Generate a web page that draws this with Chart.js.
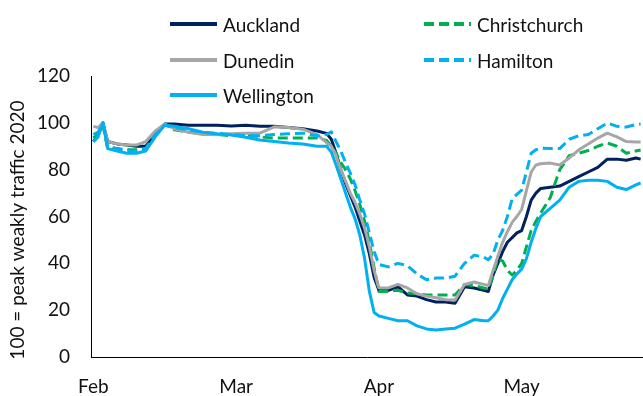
<!DOCTYPE html>
<html>
<head>
<meta charset="utf-8">
<script src="https://cdn.jsdelivr.net/npm/chart.js@4/dist/chart.umd.min.js"></script>
<style>
  html, body { margin: 0; padding: 0; background: #fff; overflow: hidden; }
  #wrap { position: relative; width: 643px; height: 396px; }
  #c { position: absolute; left: 0; top: 0; }
  .lg { position: absolute; display: flex; align-items: center; height: 24px;
        font-family: Lato, "Liberation Sans", sans-serif; font-size: 19px; color: #111; white-space: nowrap; }
  .lg svg { margin-right: 6px; }
</style>
</head>
<body>
<div id="wrap">
  <canvas id="c" width="643" height="396"></canvas>
  <div id="legend"></div>
</div>
<script>
// Day offsets counted from 1 February 2020
const days = [0, 1, 2, 3, 5, 7, 9, 11, 13, 15,
              17, 20, 23, 26, 29, 32, 35, 38, 41, 44,
              47, 49, 50, 51, 52, 53, 54, 55, 56, 57,
              58, 59, 60, 62, 64, 66, 68, 70, 72, 74,
              76, 78, 80, 82, 83, 84, 85, 86, 87, 88,
              89, 90, 91, 92, 93, 94, 96, 98, 100, 102,
              104, 106, 108, 110, 112, 114, 115];

const auckland = [92, 95, 100, 92, 91, 90.5, 90, 90, 95, 99.5,
                  99.5, 99, 99, 99, 98.7, 99, 98.5, 98.5, 98, 97.5,
                  96.5, 95.5, 93, 87, 80, 74, 69, 64, 58, 52,
                  44, 34, 28.5, 28.5, 30, 26.5, 26, 24.5, 23.5, 23.5,
                  23, 30, 29.5, 28.5, 28, 35, 40, 45, 49, 51,
                  53, 54, 60, 67, 70, 72, 72.5, 73, 75, 77,
                  79, 81, 84.5, 84.5, 84, 85, 84.5];

const christchurch = [93.5, 95, 99, 89, 89, 88.5, 88.5, 89, 95, 99.5,
                      97, 96, 95.5, 95, 94.5, 95, 94, 93.5, 93.5, 93.5,
                      93.5, 92.5, 90, 87, 83, 80, 76, 71, 65, 58,
                      49, 38, 28, 28, 28.5, 27.3, 27, 26.5, 26.5, 26.5,
                      26.5, 31, 30.5, 29.5, 29, 35, 42, 41, 37, 35,
                      37, 40, 47, 54, 58, 61.5, 68, 80, 86, 87,
                      88.2, 90, 91.4, 90, 87, 88, 88.4];

const dunedin = [98.5, 98, 100, 92, 91, 90.5, 90.5, 92, 96.5, 99.5,
                 97.5, 96, 95, 95, 95.3, 95.5, 95.6, 98.3, 98, 97.3,
                 95, 91.5, 90, 86, 80, 75, 70, 66, 61, 55,
                 47, 37, 29.5, 29.5, 31, 29.5, 27, 26, 25.3, 24.5,
                 24.3, 31, 32, 31, 30.5, 37, 43, 49, 53.5, 57.5,
                 60, 63, 71, 79, 82, 82.5, 82.8, 82, 85, 88.5,
                 91, 93.5, 95.6, 94, 92, 91.8, 91.8];

const hamilton = [95, 96, 100, 90, 89, 88, 88, 89, 95, 99,
                  98, 97, 96, 95.5, 95, 94.5, 94.5, 95, 95.3, 95.6,
                  94.5, 95, 96.2, 92, 88, 83, 78.5, 73.5, 67, 61,
                  53, 45, 39.5, 38.5, 40, 39, 35.5, 33, 33.7, 33.7,
                  34.5, 40, 43.5, 42.7, 41.5, 44, 50, 54, 60, 67.5,
                  69.5, 71.3, 79, 87, 88.5, 89.2, 89, 89, 93, 94.5,
                  95, 97.5, 99.9, 98.5, 98.2, 99.3, 99.5];

const wellington = [92, 94, 100, 89, 88, 87, 87, 88, 94, 99,
                    98.5, 97.5, 96, 95.3, 94.8, 93.8, 92.7, 92, 91.4, 91,
                    90, 90, 87.5, 82, 76, 70, 64, 59, 52, 42,
                    28, 19, 17.5, 16.5, 15.5, 15.5, 13.3, 12, 11.5, 12,
                    12.3, 14, 16, 15.5, 15.5, 17.5, 20, 25, 29, 33,
                    35.5, 37.5, 42, 49, 55, 60, 63.5, 67, 72.5, 75,
                    75.5, 75.5, 75, 72.5, 71.5, 73.5, 74.3];

const tickDays = [0, 30, 60, 90];
const tickLabels = ['Feb', 'Mar', 'Apr', 'May'];
const yTitle = '100 = peak weakly traffic 2020';

const FONT = 'Lato, "Liberation Sans", sans-serif';
const toPoints = vals => days.map((d, i) => ({ x: d, y: vals[i] }));

const series = [
  { label: 'Auckland',     vals: auckland,     color: '#002060', dash: [],      order: 5 },
  { label: 'Christchurch', vals: christchurch, color: '#00B050', dash: [10, 5], order: 4 },
  { label: 'Dunedin',      vals: dunedin,      color: '#A6A6A6', dash: [],      order: 3 },
  { label: 'Hamilton',     vals: hamilton,     color: '#00B0F0', dash: [10, 5], order: 2 },
  { label: 'Wellington',   vals: wellington,   color: '#00B0F0', dash: [],      order: 1 }
];

// Rotated y-axis title, drawn beside the value labels
const yTitlePlugin = {
  id: 'yTitle',
  afterDraw(chart) {
    const ctx = chart.ctx;
    ctx.save();
    ctx.translate(18, 230);
    ctx.rotate(-Math.PI / 2);
    ctx.font = '19px ' + FONT;
    ctx.fillStyle = '#111';
    ctx.textAlign = 'center';
    ctx.textBaseline = 'middle';
    ctx.fillText(yTitle, 0, 0);
    ctx.restore();
  }
};

const chart = new Chart(document.getElementById('c'), {
  type: 'line',
  data: {
    datasets: series.map(s => ({
      label: s.label,
      data: toPoints(s.vals),
      borderColor: s.color,
      backgroundColor: s.color,
      borderWidth: 3,
      borderDash: s.dash,
      borderCapStyle: 'butt',
      borderJoinStyle: 'round',
      pointRadius: 0,
      tension: 0,
      fill: false,
      order: s.order
    }))
  },
  options: {
    responsive: false,
    animation: false,
    devicePixelRatio: 1,
    layout: { padding: { top: 76, right: 0, bottom: 0, left: 0 } },
    plugins: { legend: { display: false }, tooltip: { enabled: false } },
    scales: {
      x: {
        type: 'linear',
        min: -0.5,
        max: 115.5,
        grid: { display: false, drawTicks: false },
        border: { display: true, color: '#000', width: 1 },
        afterBuildTicks: axis => { axis.ticks = tickDays.map(v => ({ value: v })); },
        afterFit: axis => { axis.height = 39; },
        ticks: {
          autoSkip: false,
          maxRotation: 0,
          padding: 18,
          color: '#111',
          font: { family: FONT, size: 19 },
          callback: v => tickLabels[tickDays.indexOf(v)]
        }
      },
      y: {
        min: 0,
        max: 120,
        grid: { display: false, drawTicks: false },
        border: { display: true, color: '#000', width: 1 },
        afterFit: axis => { axis.width = 91; },
        ticks: {
          stepSize: 20,
          padding: 21,
          color: '#111',
          font: { family: FONT, size: 19 }
        }
      }
    }
  },
  plugins: [yTitlePlugin]
});

// Two-column legend above the plot
const legendPos = [[170, 24], [424, 24], [170, 60], [424, 60], [170, 95]];
const legendEl = document.getElementById('legend');
chart.data.datasets.forEach((ds, i) => {
  const item = document.createElement('div');
  item.className = 'lg';
  item.style.left = legendPos[i][0] + 'px';
  item.style.top = (legendPos[i][1] - 12) + 'px';
  const dash = ds.borderDash.length ? ds.borderDash.join(' ') : 'none';
  item.innerHTML =
    '<svg width="47" height="6"><line x1="0" y1="3" x2="47" y2="3" stroke="' + ds.borderColor +
    '" stroke-width="4" stroke-dasharray="' + dash + '"/></svg><span>' + ds.label + '</span>';
  legendEl.appendChild(item);
});
</script>
</body>
</html>
